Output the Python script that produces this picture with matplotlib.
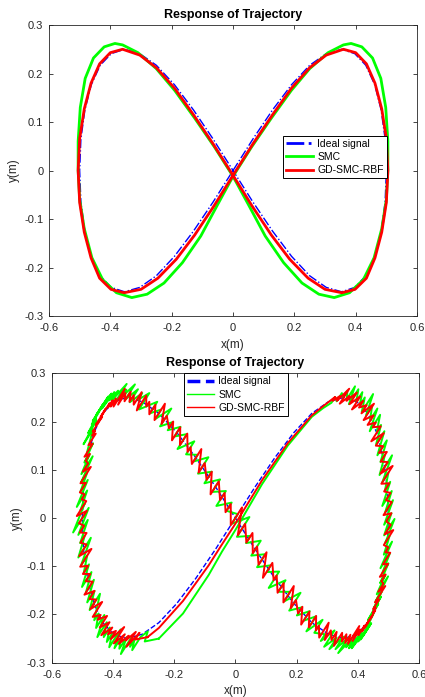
import matplotlib
matplotlib.use("Agg")
import matplotlib.pyplot as plt

# ideal figure-eight, shared by both panels
ideal_x = [0, 0.065, 0.129, 0.191, 0.25, 0.304, 0.354, 0.397, 0.433, 0.462, 0.483, 0.496, 0.5,
           0.496, 0.483, 0.462, 0.433, 0.397, 0.354, 0.304, 0.25, 0.191, 0.129, 0.065, 0,
           -0.065, -0.129, -0.191, -0.25, -0.304, -0.354, -0.397, -0.433, -0.462, -0.483, -0.496, -0.5,
           -0.496, -0.483, -0.462, -0.433, -0.397, -0.354, -0.304, -0.25, -0.191, -0.129, -0.065, 0]
ideal_y = [0, 0.065, 0.125, 0.177, 0.217, 0.241, 0.25, 0.241, 0.217, 0.177, 0.125, 0.065, 0,
           -0.065, -0.125, -0.177, -0.217, -0.241, -0.25, -0.241, -0.217, -0.177, -0.125, -0.065, 0,
           0.065, 0.125, 0.177, 0.217, 0.241, 0.25, 0.241, 0.217, 0.177, 0.125, 0.065, 0,
           -0.065, -0.125, -0.177, -0.217, -0.241, -0.25, -0.241, -0.217, -0.177, -0.125, -0.065, 0]

# panel 1: SMC
smc1_x = [0, 0.06, 0.125, 0.19, 0.25, 0.31, 0.36, 0.385, 0.42, 0.455, 0.482, 0.498, 0.505,
          0.505, 0.5, 0.485, 0.46, 0.425, 0.38, 0.33, 0.28, 0.225, 0.165, 0.105, 0.05, 0,
          -0.06, -0.125, -0.19, -0.25, -0.31, -0.36, -0.385, -0.42, -0.455, -0.482, -0.498, -0.505,
          -0.505, -0.5, -0.485, -0.46, -0.425, -0.38, -0.33, -0.28, -0.225, -0.165, -0.105, -0.05, 0]
smc1_y = [-0.012, 0.048, 0.108, 0.165, 0.21, 0.243, 0.259, 0.262, 0.255, 0.232, 0.19, 0.13, 0.06,
          0, -0.06, -0.12, -0.18, -0.225, -0.252, -0.262, -0.255, -0.232, -0.19, -0.135, -0.07, -0.012,
          0.048, 0.108, 0.165, 0.21, 0.243, 0.259, 0.262, 0.255, 0.232, 0.19, 0.13, 0.06,
          0, -0.06, -0.12, -0.18, -0.225, -0.252, -0.262, -0.255, -0.232, -0.19, -0.135, -0.07, -0.012]

# panel 1: GD-SMC-RBF
rbf1_x = [0, 0.065, 0.129, 0.191, 0.25, 0.304, 0.36, 0.40, 0.435, 0.463, 0.485, 0.5, 0.505,
          0.5, 0.485, 0.463, 0.435, 0.398, 0.355, 0.30, 0.245, 0.185, 0.125, 0.062, 0,
          -0.065, -0.129, -0.191, -0.25, -0.304, -0.36, -0.40, -0.435, -0.463, -0.485, -0.5, -0.505,
          -0.5, -0.485, -0.463, -0.435, -0.398, -0.355, -0.30, -0.245, -0.185, -0.125, -0.062, 0]
rbf1_y = [-0.01, 0.055, 0.115, 0.17, 0.212, 0.238, 0.25, 0.243, 0.22, 0.18, 0.127, 0.066, 0,
          -0.066, -0.127, -0.18, -0.222, -0.245, -0.252, -0.245, -0.222, -0.183, -0.133, -0.073, -0.01,
          0.055, 0.115, 0.17, 0.212, 0.238, 0.25, 0.243, 0.22, 0.18, 0.127, 0.066, 0,
          -0.066, -0.127, -0.18, -0.222, -0.245, -0.252, -0.245, -0.222, -0.183, -0.133, -0.073, -0.01]

# panel 2: SMC with chattering
smc2_x = [-0.25, -0.171, -0.087, -0.044, 0, 0.087, 0.171, 0.25, 0.287,
          0.314, 0.326, 0.331, 0.348, 0.352, 0.366, 0.364, 0.391, 0.371, 0.402, 0.395, 0.415, 0.406, 0.423, 0.413, 0.450, 0.427, 0.447, 0.440, 0.464,
          0.439, 0.473, 0.462, 0.476, 0.460, 0.487, 0.464, 0.495, 0.474, 0.489, 0.471, 0.512, 0.480, 0.500, 0.489, 0.506, 0.480, 0.511, 0.489, 0.515,
          0.486, 0.510, 0.486, 0.520, 0.490, 0.504, 0.485, 0.512, 0.474, 0.505, 0.480, 0.500, 0.473, 0.490, 0.462, 0.499, 0.458, 0.478, 0.452, 0.476,
          0.433, 0.467, 0.438, 0.452, 0.417, 0.444, 0.409, 0.440, 0.401, 0.416, 0.380, 0.421, 0.371, 0.391, 0.362, 0.379, 0.336, 0.367, 0.327, 0.353,
          0.307, 0.331, 0.290, 0.324, 0.279, 0.293, 0.258, 0.285, 0.232, 0.263, 0.223, 0.243, 0.201, 0.218, 0.176, 0.213, 0.159, 0.179, 0.140, 0.164,
          0.109, 0.143, 0.102, 0.116, 0.071, 0.098, 0.052, 0.083, 0.035, 0.050, 0.005, 0.046, -0.012, 0.008, -0.029, -0.012, -0.062, -0.031, -0.076, -0.050,
          -0.101, -0.077, -0.122, -0.088, -0.137, -0.123, -0.161, -0.134, -0.189, -0.158, -0.199, -0.179, -0.221, -0.204, -0.246, -0.209, -0.262, -0.242, -0.279, -0.255,
          -0.315, -0.281, -0.318, -0.304, -0.345, -0.318, -0.359, -0.328, -0.371, -0.356, -0.396, -0.355, -0.403, -0.383, -0.412, -0.395, -0.436, -0.405, -0.441, -0.415,
          -0.455, -0.431, -0.466, -0.432, -0.469, -0.455, -0.481, -0.454, -0.496, -0.465, -0.485, -0.465, -0.493, -0.476, -0.503, -0.466, -0.504, -0.484, -0.506, -0.482,
          -0.518, -0.484, -0.506, -0.492, -0.530, -0.479, -0.513, -0.482, -0.507, -0.492, -0.513, -0.472, -0.504, -0.484, -0.495, -0.478, -0.501, -0.470, -0.488, -0.462,
          -0.484, -0.460, -0.476, -0.442, -0.461, -0.447, -0.455, -0.428, -0.451, -0.420, -0.430, -0.410, -0.420, -0.403, -0.412, -0.375, -0.395, -0.375, -0.379, -0.355,
          -0.374, -0.340, -0.344, -0.330, -0.337, -0.310,
          -0.286, -0.296, -0.25]
smc2_y = [-0.25, -0.198, -0.118, -0.07, -0.025, 0.07, 0.15, 0.21, 0.228,
          0.239, 0.251, 0.242, 0.259, 0.250, 0.264, 0.246, 0.273, 0.236, 0.267, 0.241, 0.261, 0.233, 0.250, 0.220, 0.257, 0.213, 0.233, 0.203, 0.227,
          0.180, 0.214, 0.179, 0.193, 0.153, 0.180, 0.130, 0.161, 0.116, 0.131, 0.089, 0.130, 0.074, 0.094, 0.058, 0.075, 0.025, 0.056, 0.011, 0.037,
          -0.014, 0.010, -0.036, -0.002, -0.051, -0.037, -0.076, -0.049, -0.104, -0.073, -0.114, -0.094, -0.135, -0.118, -0.158, -0.121, -0.173, -0.153, -0.187, -0.163,
          -0.212, -0.178, -0.211, -0.197, -0.245, -0.218, -0.252, -0.221, -0.256, -0.241, -0.270, -0.229, -0.270, -0.250, -0.268, -0.251, -0.280, -0.249, -0.272, -0.246,
          -0.272, -0.248, -0.267, -0.233, -0.255, -0.241, -0.238, -0.211, -0.235, -0.204, -0.213, -0.193, -0.202, -0.185, -0.192, -0.155, -0.173, -0.153, -0.153, -0.129,
          -0.145, -0.111, -0.112, -0.098, -0.102, -0.075, -0.078, -0.047, -0.052, -0.037, -0.039, 0.002, -0.012, 0.008, 0.015, 0.032, 0.025, 0.056, 0.054, 0.080,
          0.072, 0.096, 0.092, 0.126, 0.117, 0.131, 0.132, 0.159, 0.143, 0.174, 0.169, 0.189, 0.182, 0.199, 0.190, 0.227, 0.205, 0.225, 0.217, 0.241,
          0.225, 0.259, 0.245, 0.259, 0.240, 0.267, 0.246, 0.277, 0.251, 0.266, 0.237, 0.278, 0.244, 0.264, 0.244, 0.261, 0.227, 0.258, 0.226, 0.252,
          0.213, 0.237, 0.201, 0.235, 0.194, 0.208, 0.176, 0.203, 0.153, 0.184, 0.135, 0.155, 0.115, 0.132, 0.091, 0.128, 0.074, 0.094, 0.055, 0.079,
          0.023, 0.057, 0.016, 0.030, -0.030, 0.021, -0.035, -0.004, -0.052, -0.037, -0.082, -0.041, -0.098, -0.078, -0.113, -0.096, -0.143, -0.112, -0.154, -0.128,
          -0.175, -0.151, -0.191, -0.157, -0.212, -0.198, -0.228, -0.201, -0.247, -0.216, -0.247, -0.227, -0.257, -0.240, -0.268, -0.231, -0.270, -0.250, -0.271, -0.247,
          -0.282, -0.248, -0.267, -0.253, -0.274, -0.247,
          -0.235, -0.256, -0.25]

# panel 2: GD-SMC-RBF with chattering
rbf2_x = [-0.287, -0.25, -0.171, -0.087, -0.044, 0, 0.087, 0.171, 0.25, 0.287,
          0.326, 0.318, 0.342, 0.332, 0.372, 0.341, 0.373, 0.363, 0.397, 0.373, 0.408, 0.381, 0.418, 0.404, 0.429, 0.412, 0.453, 0.419, 0.452, 0.432,
          0.459, 0.449, 0.475, 0.444, 0.485, 0.459, 0.483, 0.469, 0.495, 0.475, 0.498, 0.474, 0.514, 0.477, 0.503, 0.486, 0.507, 0.492, 0.511, 0.484,
          0.510, 0.493, 0.508, 0.488, 0.516, 0.485, 0.500, 0.490, 0.506, 0.482, 0.499, 0.472, 0.491, 0.477, 0.484, 0.467, 0.490, 0.456, 0.470, 0.450,
          0.459, 0.449, 0.457, 0.426, 0.448, 0.422, 0.428, 0.414, 0.422, 0.402, 0.407, 0.383, 0.405, 0.368, 0.376, 0.359, 0.363, 0.348, 0.349, 0.322,
          0.331, 0.314, 0.312, 0.292, 0.305, 0.274, 0.273, 0.263, 0.264, 0.240, 0.242, 0.215, 0.219, 0.205, 0.198, 0.181, 0.191, 0.157, 0.158, 0.138,
          0.135, 0.125, 0.121, 0.090, 0.102, 0.076, 0.071, 0.057, 0.056, 0.036, 0.032, 0.008, 0.022, -0.015, -0.015, -0.032, -0.035, -0.050, -0.054, -0.081,
          -0.077, -0.094, -0.100, -0.120, -0.111, -0.142, -0.146, -0.156, -0.157, -0.181, -0.180, -0.207, -0.203, -0.217, -0.224, -0.241, -0.230, -0.264, -0.261, -0.281,
          -0.281, -0.291, -0.291, -0.322, -0.306, -0.332, -0.332, -0.346, -0.342, -0.362, -0.359, -0.383, -0.361, -0.398, -0.390, -0.407, -0.401, -0.416, -0.411, -0.438,
          -0.423, -0.440, -0.436, -0.456, -0.435, -0.466, -0.458, -0.468, -0.456, -0.480, -0.466, -0.493, -0.475, -0.489, -0.481, -0.498, -0.472, -0.506, -0.488, -0.508,
          -0.492, -0.502, -0.487, -0.518, -0.485, -0.511, -0.494, -0.508, -0.486, -0.506, -0.486, -0.510, -0.470, -0.507, -0.481, -0.498, -0.474, -0.489, -0.466, -0.493,
          -0.460, -0.477, -0.454, -0.474, -0.435, -0.466, -0.440, -0.450, -0.419, -0.443, -0.411, -0.438, -0.402, -0.416, -0.390, -0.407, -0.363, -0.397, -0.361, -0.381,
          -0.348, -0.358, -0.325, -0.356, -0.313, -0.327,
          -0.287]
rbf2_y = [-0.247, -0.228, -0.172, -0.098, -0.055, -0.012, 0.078, 0.155, 0.213, 0.232,
          0.251, 0.243, 0.253, 0.243, 0.268, 0.237, 0.253, 0.243, 0.260, 0.236, 0.252, 0.225, 0.243, 0.229, 0.234, 0.217, 0.237, 0.203, 0.213, 0.193,
          0.198, 0.188, 0.190, 0.159, 0.176, 0.150, 0.149, 0.135, 0.137, 0.117, 0.116, 0.092, 0.108, 0.071, 0.072, 0.055, 0.052, 0.037, 0.033, 0.006,
          0.010, -0.007, -0.014, -0.034, -0.025, -0.056, -0.061, -0.071, -0.072, -0.096, -0.095, -0.122, -0.117, -0.131, -0.136, -0.153, -0.141, -0.175, -0.169, -0.189,
          -0.186, -0.196, -0.192, -0.223, -0.202, -0.228, -0.221, -0.235, -0.223, -0.243, -0.231, -0.255, -0.224, -0.261, -0.242, -0.259, -0.241, -0.256, -0.238, -0.265,
          -0.236, -0.253, -0.233, -0.253, -0.217, -0.248, -0.223, -0.233, -0.203, -0.227, -0.194, -0.221, -0.184, -0.198, -0.170, -0.187, -0.141, -0.175, -0.135, -0.155,
          -0.119, -0.129, -0.093, -0.124, -0.071, -0.097, -0.059, -0.073, -0.031, -0.051, -0.012, -0.036, 0.022, -0.015, 0.029, 0.012, 0.052, 0.037, 0.076, 0.049,
          0.096, 0.079, 0.114, 0.094, 0.143, 0.112, 0.147, 0.137, 0.175, 0.151, 0.188, 0.161, 0.200, 0.186, 0.212, 0.195, 0.237, 0.203, 0.235, 0.215,
          0.241, 0.231, 0.254, 0.223, 0.261, 0.235, 0.255, 0.241, 0.262, 0.242, 0.259, 0.235, 0.268, 0.231, 0.248, 0.231, 0.244, 0.229, 0.238, 0.211,
          0.227, 0.210, 0.213, 0.193, 0.210, 0.179, 0.181, 0.171, 0.175, 0.151, 0.154, 0.127, 0.133, 0.119, 0.113, 0.096, 0.106, 0.072, 0.073, 0.053,
          0.049, 0.039, 0.035, 0.004, 0.015, -0.011, -0.016, -0.030, -0.031, -0.051, -0.055, -0.079, -0.064, -0.101, -0.099, -0.116, -0.116, -0.131, -0.132, -0.159,
          -0.151, -0.168, -0.169, -0.189, -0.174, -0.205, -0.201, -0.211, -0.203, -0.227, -0.216, -0.243, -0.227, -0.241, -0.234, -0.251, -0.226, -0.260, -0.241, -0.261,
          -0.244, -0.254, -0.236, -0.267, -0.238, -0.252,
          -0.247]

X_TICKS = [-0.6, -0.4, -0.2, 0, 0.2, 0.4, 0.6]
X_TICK_LABELS = ["-0.6", "-0.4", "-0.2", "0", "0.2", "0.4", "0.6"]
Y_TICKS = [-0.3, -0.2, -0.1, 0, 0.1, 0.2, 0.3]
Y_TICK_LABELS = ["-0.3", "-0.2", "-0.1", "0", "0.1", "0.2", "0.3"]
LABELS = ["Ideal signal", "SMC", "GD-SMC-RBF"]

AXIS_GREY = "#262626"


def style_axes(ax: plt.Axes) -> None:
    ax.set_xlim(-0.6, 0.6)
    ax.set_ylim(-0.3, 0.3)
    ax.set_xticks(X_TICKS)
    ax.set_xticklabels(X_TICK_LABELS)
    ax.set_yticks(Y_TICKS)
    ax.set_yticklabels(Y_TICK_LABELS)
    ax.tick_params(direction="in", top=True, right=True, length=3, width=0.6,
                   colors=AXIS_GREY, labelsize=8)
    ax.tick_params(axis="x", pad=5)
    ax.tick_params(axis="y", pad=4)
    for spine in ax.spines.values():
        spine.set_color(AXIS_GREY)
        spine.set_linewidth(0.6)
    ax.set_title("Response of Trajectory", fontsize=9, fontweight="bold", pad=5)
    ax.set_xlabel("x(m)", fontsize=8.5, color=AXIS_GREY, labelpad=4)
    ax.set_ylabel("y(m)", fontsize=8.5, color=AXIS_GREY, labelpad=3)


def add_legend(ax: plt.Axes, anchor, handle_widths) -> None:
    leg = ax.legend(loc="upper left", bbox_to_anchor=anchor, fontsize=7.5, fancybox=False,
                    edgecolor="black", framealpha=1, borderpad=0.3, labelspacing=0.3,
                    handlelength=2.6, handletextpad=0.4, borderaxespad=0)
    leg.get_frame().set_linewidth(0.7)
    for line, width in zip(leg.get_lines(), handle_widths):
        line.set_linewidth(width)


def main() -> None:
    plt.rcParams.update({
        "font.family": ["Liberation Sans", "DejaVu Sans"],
        "axes.unicode_minus": False,
    })
    fig = plt.figure(figsize=(4.25, 6.97), dpi=100)
    ax1 = fig.add_axes([0.1153, 0.5466, 0.8659, 0.4175])
    ax2 = fig.add_axes([0.1216, 0.0492, 0.8643, 0.4152])

    ax1.plot(ideal_x, ideal_y, color="blue", linestyle="-.", linewidth=1.0, label=LABELS[0])
    ax1.plot(smc1_x, smc1_y, color="#00ff00", linewidth=2.0, label=LABELS[1])
    ax1.plot(rbf1_x, rbf1_y, color="red", linewidth=2.0, label=LABELS[2])
    style_axes(ax1)
    add_legend(ax1, (0.636, 0.619), [2.0, 2.0, 2.0])

    ax2.plot(ideal_x, ideal_y, color="blue", linestyle="--", linewidth=1.0, label=LABELS[0])
    ax2.plot(smc2_x, smc2_y, color="#00ff00", linewidth=1.4, label=LABELS[1])
    ax2.plot(rbf2_x, rbf2_y, color="red", linewidth=1.4, label=LABELS[2])
    style_axes(ax2)
    add_legend(ax2, (0.36, 1.0), [2.5, 1.0, 1.0])

    fig.savefig("out.png", dpi=100)
    plt.close(fig)


if __name__ == "__main__":
    main()
